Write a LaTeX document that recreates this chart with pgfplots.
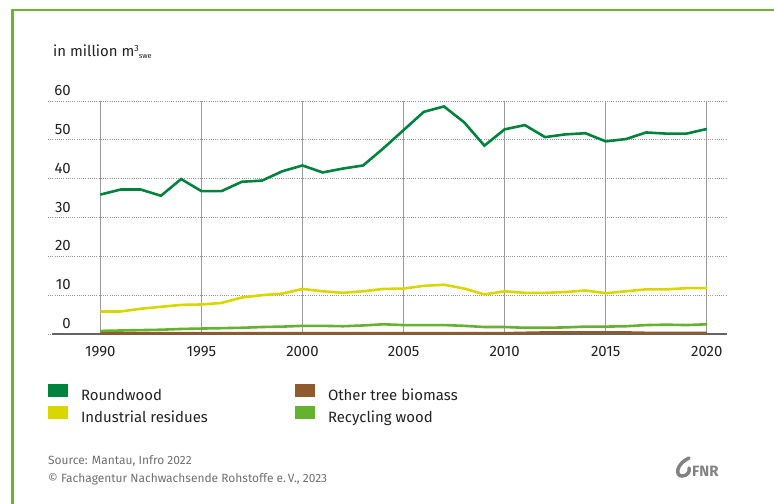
\documentclass[border=0pt]{standalone}
\usepackage{fontspec}
\setmainfont{Fira Sans}
\usepackage{pgfplots}
\pgfplotsset{compat=1.18}
\usepackage{pgfplotstable}
\definecolor{cRound}{RGB}{0,132,61}
\definecolor{cInd}{RGB}{218,214,0}
\definecolor{cOther}{RGB}{142,90,46}
\definecolor{cRec}{RGB}{100,178,46}
\definecolor{frame}{RGB}{106,180,46}
\definecolor{gridgray}{RGB}{155,155,155}
\definecolor{dotgray}{RGB}{150,150,150}
\definecolor{axisgray}{RGB}{100,100,100}
\definecolor{txt}{RGB}{34,34,34}
\definecolor{srcgray}{RGB}{112,112,112}
\definecolor{logogray}{RGB}{130,130,130}

\pgfplotstableread{
year round other ind rec
1990 35.9 0.2 5.8 0.8
1991 37.2 0.2 5.8 0.9
1992 37.2 0.2 6.5 1.0
1993 35.6 0.2 7.0 1.1
1994 39.9 0.2 7.5 1.3
1995 36.8 0.2 7.6 1.4
1996 36.8 0.2 8.0 1.5
1997 39.2 0.2 9.4 1.6
1998 39.5 0.2 10.0 1.8
1999 41.9 0.2 10.4 1.9
2000 43.4 0.2 11.6 2.1
2001 41.6 0.2 11.0 2.1
2002 42.6 0.2 10.6 2.0
2003 43.4 0.2 11.0 2.2
2004 47.8 0.2 11.6 2.5
2005 52.5 0.2 11.7 2.3
2006 57.2 0.2 12.4 2.3
2007 58.6 0.2 12.7 2.3
2008 54.5 0.2 11.7 2.1
2009 48.5 0.2 10.2 1.8
2010 52.7 0.2 11.0 1.8
2011 53.8 0.3 10.6 1.6
2012 50.7 0.4 10.6 1.6
2013 51.4 0.4 10.8 1.7
2014 51.7 0.4 11.2 1.9
2015 49.6 0.4 10.5 1.9
2016 50.2 0.4 11.0 2.0
2017 51.9 0.3 11.5 2.3
2018 51.6 0.3 11.5 2.4
2019 51.6 0.3 11.8 2.3
2020 52.8 0.3 11.8 2.5
}\datatable

\begin{document}
\begin{tikzpicture}
\path[use as bounding box] (-48bp,-170bp) rectangle (726bp,334bp);
\begin{axis}[
  scale only axis, width=679bp, height=233bp,
  xmin=1987.413, xmax=2021.0, ymin=0, ymax=60,
  axis line style={draw=none},
  major tick length=0pt,
  xtick={1990,1995,...,2020}, xticklabels={1990,1995,2000,2005,2010,2015,2020},
  ytick={0,10,...,60}, yticklabels={0,10,20,30,40,50,60},
  xmajorgrids, ymajorgrids,
  x grid style={color=gridgray, line width=1.4bp},
  y grid style={color=dotgray, line width=0.7bp, dash pattern=on 0.8bp off 1.4bp},
  xticklabel style={anchor=north, inner sep=0pt, yshift=-12bp, font=\fontsize{15}{18}\selectfont, text=txt},
  yticklabel style={anchor=south east, inner sep=0pt, xshift=23bp, yshift=5bp, font=\fontsize{15}{18}\selectfont, text=txt},
  legend columns=2,
  legend cell align=left,
  legend style={at={(axis description cs:0,-0.2146)}, anchor=north west, draw=none, fill=none,
    inner sep=0pt, outer sep=0pt, row sep=4bp, font=\fontsize{15}{18}\selectfont, text=txt,
    nodes={inner sep=0pt},
    /tikz/every odd column/.append style={column sep=13bp}},
  legend image code/.code={\fill[#1,draw=none] (0bp,-1bp) rectangle (20bp,11.5bp);},
]
\draw[color=axisgray, line width=1.6bp] (axis cs:1987.61,0) -- (axis cs:2021.0,0);
\addplot[color=cRound, line width=2.6bp] table[x=year,y=round] {\datatable};
\addlegendentry{\makebox[214bp][l]{Roundwood}}
\addplot[color=cOther, line width=2.6bp] table[x=year,y=other] {\datatable};
\addlegendentry{Other tree biomass}
\addplot[color=cInd, line width=2.6bp] table[x=year,y=ind] {\datatable};
\addlegendentry{\makebox[214bp][l]{Industrial residues}}
\addplot[color=cRec, line width=2.6bp] table[x=year,y=rec] {\datatable};
\addlegendentry{Recycling wood}
\end{axis}
% frame
\draw[frame, line width=2.4bp, line join=miter] (-35.5bp,-170bp) -- (-35.5bp,324bp) -- (726bp,324bp);
% unit label
\node[anchor=base west, inner sep=0pt, font=\fontsize{15}{18}\selectfont, text=txt] at (5bp,277bp)
  {in million m\raisebox{5bp}{\fontsize{9}{9}\selectfont 3}\raisebox{-2bp}{\fontsize{7.5}{8}\selectfont swe}};
% source
\node[anchor=base west, inner sep=0pt, font=\fontsize{12}{14}\selectfont, text=srcgray] at (0bp,-130bp)
  {Source: Mantau, Infro 2022};
\node[anchor=base west, inner sep=0pt, font=\fontsize{12}{14}\selectfont, text=srcgray] at (0bp,-148bp)
  {© Fachagentur Nachwachsende Rohstoffe e.\,V., 2023};
% logo
\draw[line width=3.5bp, logogray, line cap=round] (641bp,-124bp) .. controls (628bp,-130bp) and (627bp,-142bp) .. (634bp,-142bp) .. controls (640bp,-142bp) and (642bp,-137bp) .. (641bp,-134bp);
\node[anchor=base west, inner sep=0pt, font=\fontsize{15}{18}\selectfont\bfseries, text=logogray] at (644bp,-142bp) {FNR};
\end{tikzpicture}
\end{document}
